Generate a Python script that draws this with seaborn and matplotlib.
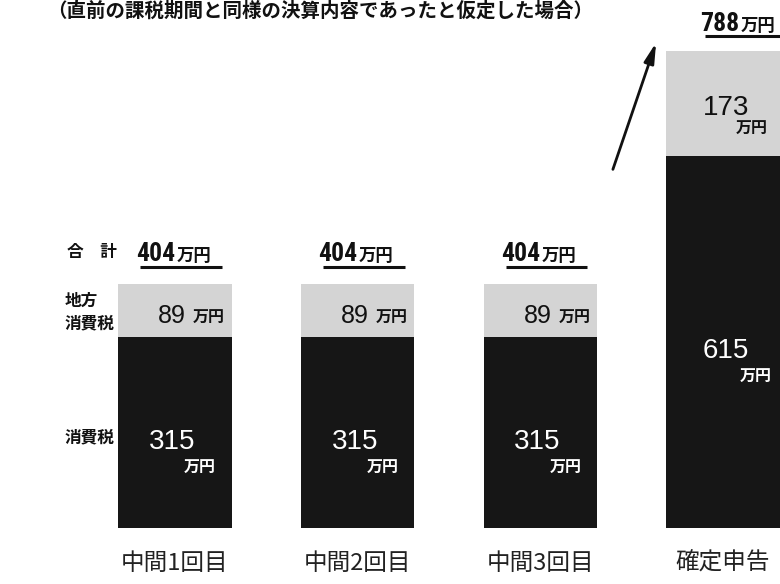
import matplotlib
matplotlib.use("Agg")
import matplotlib.pyplot as plt
import seaborn as sns
import pandas as pd
from matplotlib import font_manager as fm

# ---- data ----
categories = ["中間1回目", "中間2回目", "中間3回目", "確定申告"]
consumption_tax = [315, 315, 315, 615]
local_tax = [89, 89, 89, 173]
totals = [404, 404, 404, 788]
unit = "万円"
title = "（直前の課税期間と同様の決算内容であったと仮定した場合）"
row_labels = ["合　計", "地方\n消費税", "消費税"]

sns.set_theme(style="white")
plt.rcParams["font.family"] = ["Noto Sans CJK JP", "DejaVu Sans"]
names = {f.name for f in fm.fontManager.ttflist}
cond = [n for n in ["Liberation Sans Narrow", "DejaVu Sans Condensed", "Roboto Condensed",
                    "Open Sans Condensed"] if n in names]
NUMB = (cond[:1] or ["Liberation Sans"]) + ["DejaVu Sans"]   # bold totals
NUM = ["Liberation Sans", "DejaVu Sans"]                        # in-bar numbers
JP = ["Noto Sans CJK JP", "DejaVu Sans"]
INK = "#111111"

df = pd.DataFrame({"cat": categories, "cons": consumption_tax,
                   "local": local_tax, "total": totals})

W, H = 780, 584
fig = plt.figure(figsize=(W / 100, H / 100), dpi=100)
ax = fig.add_axes([0, 56 / H, 1, 1 - 56 / H])

LIGHT = "#d4d4d4"
DARK = "#161616"
sns.barplot(data=df, x="cat", y="total", order=categories, color=LIGHT,
            saturation=1, width=0.62, ax=ax, edgecolor="none")
sns.barplot(data=df, x="cat", y="cons", order=categories, color=DARK,
            saturation=1, width=0.62, ax=ax, edgecolor="none")

ax.set_xlim(-0.958, 3.312)
ax.set_ylim(0, 873)
ax.set_xlabel("")
ax.set_ylabel("")
ax.set_yticks([])
for s in ax.spines.values():
    s.set_visible(False)
ax.tick_params(axis="x", length=0, pad=17, labelsize=17)
for lab in ax.get_xticklabels():
    lab.set_family(JP)
    lab.set_color("#222222")

for i, (c, l, t) in enumerate(zip(consumption_tax, local_tax, totals)):
    last = i == 3
    # ---- total label with underline ----
    sx, sy = (12, 14.5) if last else (0, 16.5)
    ax.annotate(str(t), xy=(i, t), xytext=(sx, sy), textcoords="offset points",
                ha="right", va="baseline", fontsize=18.5, fontweight="bold",
                family=NUMB, color=INK)
    ax.annotate(unit, xy=(i, t), xytext=(sx + 1, sy), textcoords="offset points",
                ha="left", va="baseline", fontsize=12.5, fontweight="bold",
                family=JP, color=INK)
    ux, uy = (0.09, 26) if last else (0.0, 28)
    ax.plot([i - 0.19 + ux, i + 0.257 + ux], [t + uy, t + uy], color=INK, lw=2.2,
            solid_capstyle="butt")
    # ---- local tax label (light segment) ----
    mid_l = c + l / 2
    if not last:
        ax.annotate(str(l), xy=(i, mid_l), xytext=(-2, -9), textcoords="offset points",
                    ha="center", va="baseline", fontsize=18, family=NUM, color=INK)
        ax.annotate(unit, xy=(i, mid_l), xytext=(13, -9), textcoords="offset points",
                    ha="left", va="baseline", fontsize=11.5, fontweight="bold",
                    family=JP, color=INK)
    else:
        ax.annotate(str(l), xy=(i, mid_l), xytext=(2, -8), textcoords="offset points",
                    ha="center", va="baseline", fontsize=20, family=NUM, color=INK)
        ax.annotate(unit, xy=(i, mid_l), xytext=(9, -22), textcoords="offset points",
                    ha="left", va="baseline", fontsize=11.5, fontweight="bold",
                    family=JP, color=INK)
    # ---- consumption tax label (dark segment) ----
    mid_c = c / 2
    if not last:
        ax.annotate(str(c), xy=(i, mid_c), xytext=(-2, -12), textcoords="offset points",
                    ha="center", va="baseline", fontsize=20, family=NUM, color="white")
        ax.annotate(unit, xy=(i, mid_c), xytext=(6.5, -29), textcoords="offset points",
                    ha="left", va="baseline", fontsize=11.5, fontweight="bold",
                    family=JP, color="white")
    else:
        ax.annotate(str(c), xy=(i, mid_c), xytext=(2, -11.5), textcoords="offset points",
                    ha="center", va="baseline", fontsize=20, family=NUM, color="white")
        ax.annotate(unit, xy=(i, mid_c), xytext=(12, -29), textcoords="offset points",
                    ha="left", va="baseline", fontsize=11.5, fontweight="bold",
                    family=JP, color="white")

# row labels on the left
fig.text(67 / W, 1 - 252 / H, row_labels[0], ha="left", va="center",
         fontsize=12, fontweight="bold", family=JP, color=INK)
fig.text(65 / W, 1 - 312 / H, row_labels[1], ha="left", va="center",
         fontsize=12, fontweight="bold", family=JP, color=INK, linespacing=1.35)
fig.text(65 / W, 1 - 437 / H, row_labels[2], ha="left", va="center",
         fontsize=12, fontweight="bold", family=JP, color=INK)

# title (at the top of the scan)
fig.text(320 / W, 1 - 11 / H, title, ha="center", va="center",
         fontsize=14, fontweight="bold", family=JP, color=INK)

# arrow pointing to the final bar
ax.annotate("", xy=(657, H - 40), xycoords="figure pixels",
            xytext=(612, H - 172), textcoords="figure pixels",
            arrowprops=dict(arrowstyle="-|>,head_length=1.0,head_width=0.25",
                            color=INK, lw=2.0))

fig.savefig("out.png", dpi=100)
